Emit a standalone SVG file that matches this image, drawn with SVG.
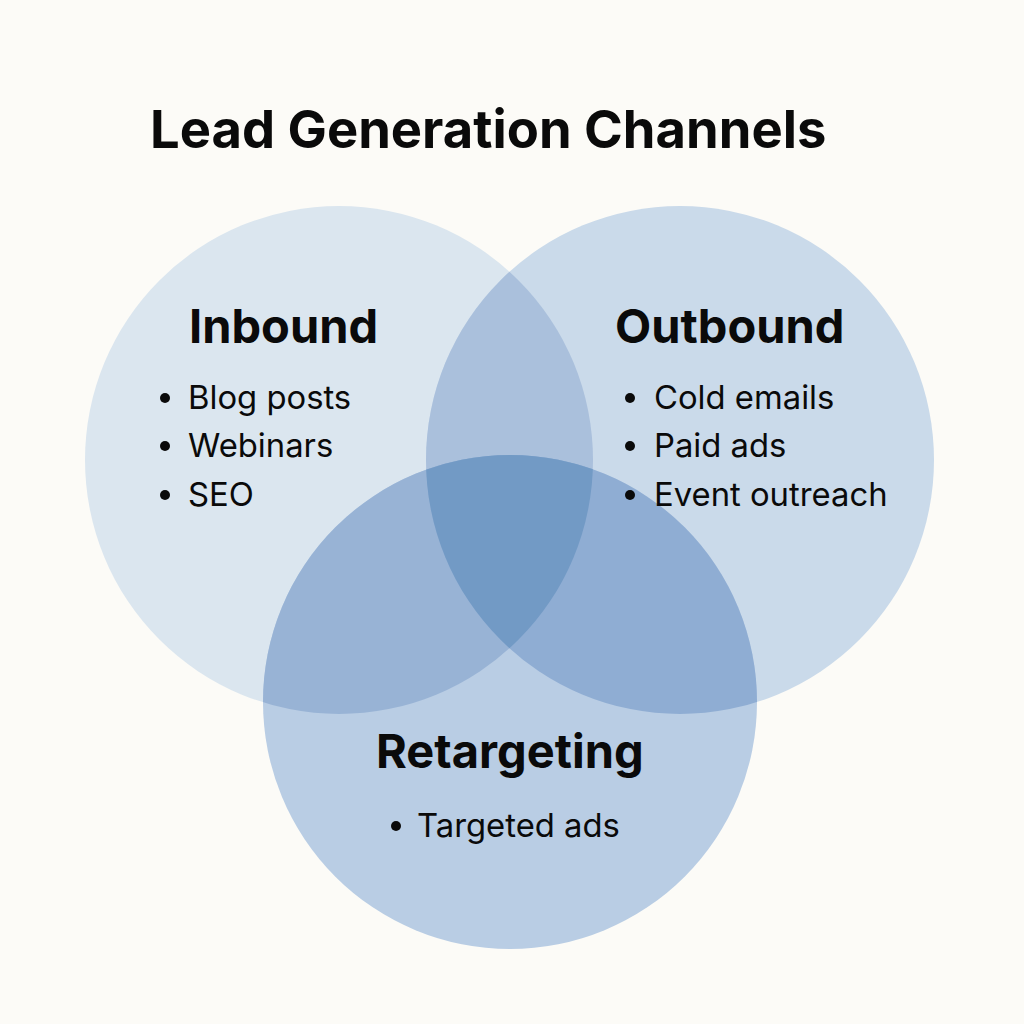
<svg xmlns="http://www.w3.org/2000/svg" width="1024" height="1024" viewBox="0 0 1024 1024">
<defs>
<style>
.title{font-family:Inter,"Liberation Sans",sans-serif;font-weight:700;font-size:52.5px;fill:#0a0a0a}
.head{font-family:Inter,"Liberation Sans",sans-serif;font-weight:700;font-size:47px;fill:#0a0a0a}
.item{font-family:Inter,"Liberation Sans",sans-serif;font-weight:400;font-size:32.8px;fill:#0a0a0a}
.dot{fill:#0a0a0a}
</style>
<clipPath id="cIn"><circle cx="339" cy="460" r="254"/></clipPath>
<clipPath id="cOut"><circle cx="680" cy="460" r="254"/></clipPath>
</defs>
<rect width="1024" height="1024" fill="#fcfbf7"/>
<text class="title" x="150" y="148">Lead Generation Channels</text>
<g id="inbound">
<circle cx="339" cy="460" r="254" fill="#dbe6ef"/>
</g>
<g id="outbound">
<circle cx="680" cy="460" r="254" fill="#cadaea"/>
</g>
<g id="retargeting">
<circle cx="510" cy="702" r="247" fill="#b9cde4"/>
</g>
<g id="overlaps">
<circle cx="680" cy="460" r="254" fill="#aac0dc" clip-path="url(#cIn)"/>
<circle cx="510" cy="702" r="247" fill="#98b3d5" clip-path="url(#cIn)"/>
<circle cx="510" cy="702" r="247" fill="#8fadd3" clip-path="url(#cOut)"/>
<g clip-path="url(#cIn)"><circle cx="510" cy="702" r="247" fill="#729ac5" clip-path="url(#cOut)"/></g>
</g>
<g id="inbound-text">
<text class="head" x="189" y="343">Inbound</text>
<circle class="dot" cx="165" cy="398" r="5"/><text class="item" x="188" y="409">Blog posts</text>
<circle class="dot" cx="165" cy="446" r="5"/><text class="item" x="188" y="457">Webinars</text>
<circle class="dot" cx="165" cy="495" r="5"/><text class="item" x="188" y="506">SEO</text>
</g>
<g id="outbound-text">
<text class="head" x="615" y="343">Outbound</text>
<circle class="dot" cx="630" cy="398" r="5"/><text class="item" x="654" y="409">Cold emails</text>
<circle class="dot" cx="630" cy="446" r="5"/><text class="item" x="654" y="457">Paid ads</text>
<circle class="dot" cx="630" cy="495" r="5"/><text class="item" x="654" y="506">Event outreach</text>
</g>
<g id="retargeting-text">
<text class="head" x="376" y="768">Retargeting</text>
<circle class="dot" cx="396" cy="826" r="5"/><text class="item" x="417" y="837">Targeted ads</text>
</g>
</svg>
